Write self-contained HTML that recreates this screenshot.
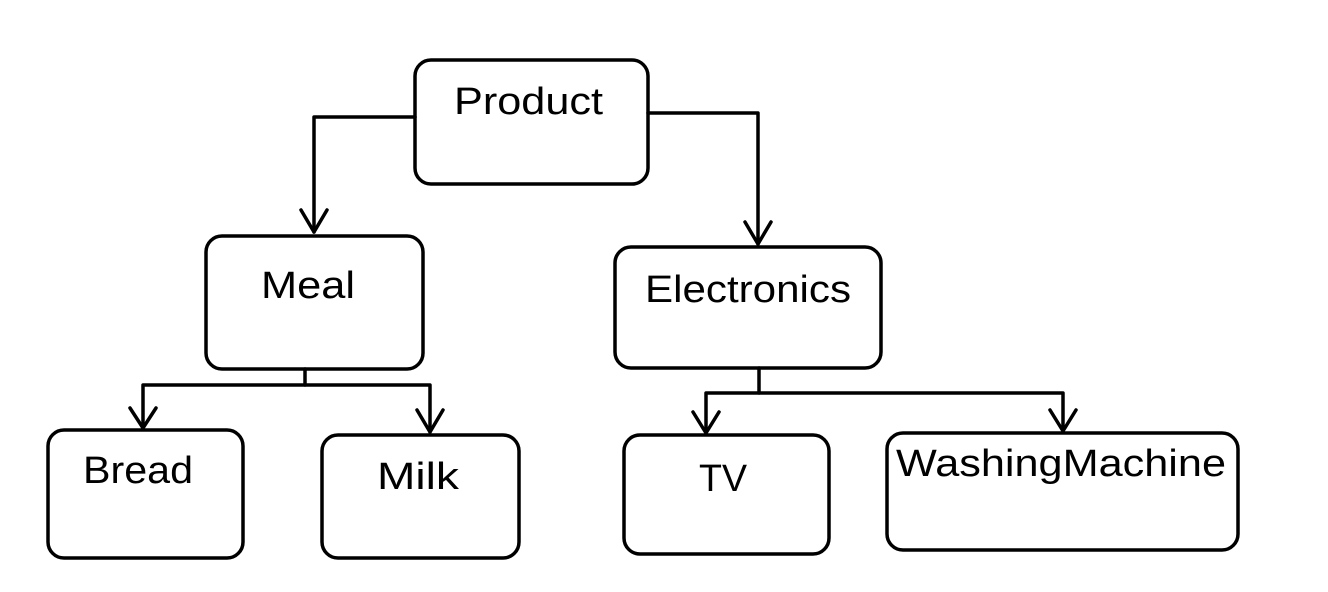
<!DOCTYPE html>
<html><head><style>html,body{margin:0;padding:0;background:#fff;}svg{display:block}</style></head>
<body>
<svg width="1328" height="592" viewBox="0 0 1328 592" xmlns="http://www.w3.org/2000/svg">
<g fill="none" stroke="#000" stroke-width="3.5" stroke-linecap="round" stroke-linejoin="round">
<rect x="415" y="60" width="233" height="124" rx="16"/>
<rect x="206" y="236" width="217" height="133" rx="16"/>
<rect x="615" y="247" width="266" height="121" rx="16"/>
<rect x="48" y="430" width="195" height="128" rx="16"/>
<rect x="322" y="435" width="197" height="123" rx="16"/>
<rect x="624" y="435" width="205" height="119" rx="16"/>
<rect x="887" y="433" width="351" height="117" rx="16"/>
<polyline points="415,117 314,117 314,232"/>
<polyline points="301,210 314,232 327,210"/>
<polyline points="648,113 758,113 758,244"/>
<polyline points="745,222 758,244 771,222"/>
<polyline points="305,369 305,385"/>
<polyline points="143,428 143,385 430,385 430,432"/>
<polyline points="130,408 143,428 156,408"/>
<polyline points="417,410 430,432 443,410"/>
<polyline points="759,368 759,393"/>
<polyline points="706,433 706,393 1063,393 1063,431"/>
<polyline points="693,412 706,433 719,412"/>
<polyline points="1050,410 1063,431 1076,410"/>
</g>
<g font-family="'Liberation Sans', sans-serif" font-size="38" fill="#000" lengthAdjust="spacingAndGlyphs">
<text x="454" y="114" textLength="149" lengthAdjust="spacingAndGlyphs">Product</text>
<text x="261" y="298" textLength="94" lengthAdjust="spacingAndGlyphs">Meal</text>
<text x="645" y="302" textLength="206" lengthAdjust="spacingAndGlyphs">Electronics</text>
<text x="83" y="483" textLength="110" lengthAdjust="spacingAndGlyphs">Bread</text>
<text x="377" y="489" textLength="82" lengthAdjust="spacingAndGlyphs">Milk</text>
<text x="699" y="491" textLength="48" lengthAdjust="spacingAndGlyphs">TV</text>
<text x="896" y="476" textLength="330" lengthAdjust="spacingAndGlyphs">WashingMachine</text>
</g>
</svg>
</body></html>
